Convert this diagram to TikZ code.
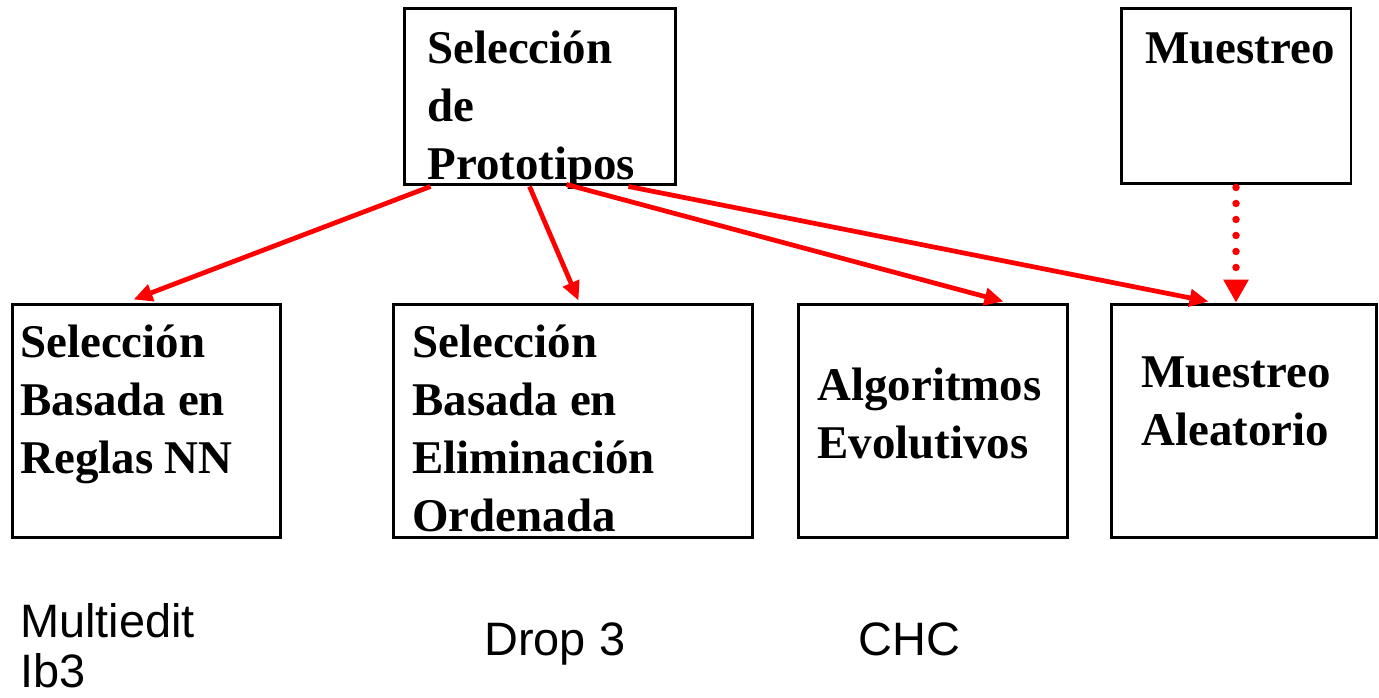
\documentclass[tikz,border=0pt]{standalone}
\usepackage{fontspec}
\setmainfont{Liberation Serif}
\newfontfamily\arialfont{Liberation Sans}
\usepackage{xcolor}
\usetikzlibrary{positioning, arrows.meta}
\definecolor{arrowred}{HTML}{FF0000}

\begin{document}
\begin{tikzpicture}[x=0.02cm, y=-0.02cm,
    box/.style={draw=black, line width=1.7pt, inner sep=0pt},
    boxtext/.style={anchor=base west, inner sep=0pt, align=left,
                    font=\fontsize{26.7pt}{33pt}\selectfont\bfseries},
    plaintext/.style={anchor=base west, inner sep=0pt, align=left,
                      font=\fontsize{26.7pt}{28pt}\selectfont\arialfont},
    link/.style={draw=arrowred, line width=2.7pt,
                 -{Triangle[length=0.38cm, width=0.34cm]}},
    sample/.style={draw=arrowred, line width=0.15cm, line cap=round,
                   dash pattern=on 0pt off 0.32cm,
                   -{Triangle[length=0.46cm, width=0.48cm, line cap=butt]}}]
  \useasboundingbox (0,0) rectangle (1379,697);

  % upper boxes (texts placed at the baseline of their last line)
  \node[box, minimum width=5.44cm, minimum height=3.54cm] (proto) at (540,96.5) {};
  \node[box, minimum width=4.60cm, minimum height=3.52cm] (muest) at (1236,96) {};
  \node[boxtext] (protoT) at (427,179) {Selección\\de\\Prototipos};
  \node[boxtext] (muestT) at (1145,63) {Muestreo};

  % lower boxes
  \node[box, minimum width=5.38cm, minimum height=4.68cm] (reglas) at (146.5,421) {};
  \node[box, minimum width=7.20cm, minimum height=4.68cm] (elim) at (573,421) {};
  \node[box, minimum width=5.40cm, minimum height=4.68cm] (evol) at (933,421) {};
  \node[box, minimum width=5.32cm, minimum height=4.68cm] (aleat) at (1244,421) {};
  \node[boxtext] (reglasT) at (20,473) {Selección\\Basada en\\Reglas NN};
  \node[boxtext] (elimT) at (412,531) {Selección\\Basada en\\Eliminación\\Ordenada};
  \node[boxtext] (evolT) at (817,458) {Algoritmos\\Evolutivos};
  \node[boxtext] (aleatT) at (1141,445) {Muestreo\\Aleatorio};

  % examples
  \node[plaintext] (multi) at (20,687) {Multiedit\\Ib3};
  \node[plaintext] (drop) at (484,655) {Drop 3};
  \node[plaintext] (chc) at (858,655) {CHC};

  % connectors
  \draw[link] ([xshift=0.56cm]proto.south west) -- ([xshift=2.46cm, yshift=0.06cm]reglas.north west);
  \draw[link] ([xshift=2.54cm]proto.south west) -- ([xshift=3.74cm, yshift=0.04cm]elim.north west);
  \draw[link] ([xshift=3.28cm, yshift=0.04cm]proto.south west) -- ([xshift=4.14cm, yshift=0.02cm]evol.north west);
  \draw[link] ([xshift=4.52cm]proto.south west) -- ([xshift=1.98cm, yshift=0.02cm]aleat.north west);
  \draw[sample] ([yshift=-0.04cm]muest.south) -- (muest.south |- aleat.north);
\end{tikzpicture}
\end{document}
